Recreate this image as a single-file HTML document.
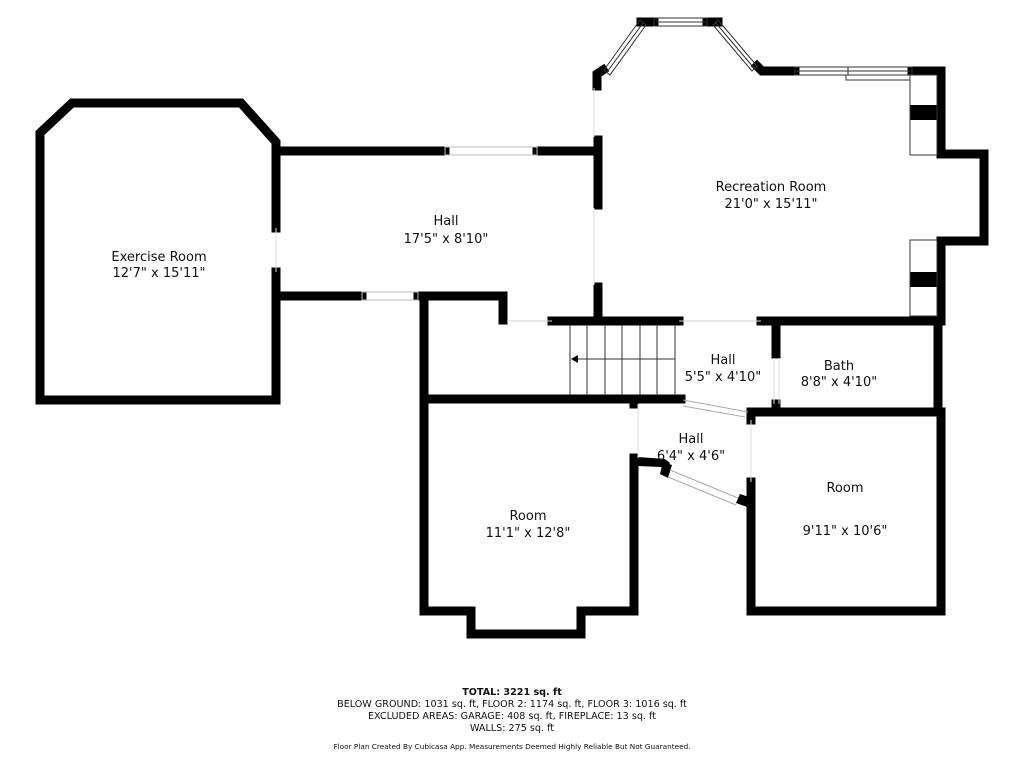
<!DOCTYPE html>
<html><head><style>
html,body{margin:0;padding:0;background:#fff;}
svg{display:block}
text{font-family:"DejaVu Sans","Liberation Sans",sans-serif;fill:#111}
</style></head><body>
<svg width="1024" height="768" viewBox="0 0 1024 768" xmlns="http://www.w3.org/2000/svg">
<g stroke="#000" stroke-width="9" fill="none" stroke-linejoin="miter" stroke-linecap="square">
<polyline points="276,228 276,142 241,103 72,103 40,133 40,400 276,400 276,272"/>
<line x1="280" y1="151" x2="445" y2="151"/>
<line x1="537" y1="151" x2="596" y2="151"/>
<line x1="598" y1="140" x2="598" y2="205"/>
<line x1="598" y1="287" x2="598" y2="314"/>
<line x1="280" y1="296" x2="362" y2="296"/>
<polyline points="418,296 503,296 503,320"/>
<polyline points="597,86 597,74 603,70"/>
<line x1="641" y1="22" x2="654" y2="22"/>
<line x1="707" y1="22" x2="718" y2="22"/>
<polyline points="757,66 762,71 795,71"/>
<polyline points="912,71 941,71 941,154 984,154 984,241 941,241 941,320"/>
<line x1="552" y1="321" x2="679" y2="321"/>
<line x1="761" y1="321" x2="941" y2="321"/>
<line x1="776" y1="321" x2="776" y2="354"/>
<line x1="776" y1="404" x2="776" y2="410"/>
<line x1="938" y1="321" x2="938" y2="410"/>
<line x1="752" y1="412" x2="941" y2="412"/>
<polyline points="751,482 751,611 941,611 941,412"/>
<polyline points="424,296 424,611 471,611 471,634 581,634 581,611 634,611 634,458"/>
<line x1="424" y1="399" x2="681" y2="399"/>
<line x1="634" y1="399" x2="634" y2="404"/>
<line x1="751" y1="412" x2="751" y2="420"/>
</g>
<polygon points="638,457 665,459 670,463 666,470 661,467 638,466" fill="#000"/>
<polygon points="663,462 672,465 668,478 660,474" fill="#000"/>
<polygon points="740,494 752,498 750,508 736,503" fill="#000"/>
<polygon points="683,395 682,403 676,403 676,395" fill="#000"/>
<rect x="910" y="105" width="28" height="15" fill="#000"/>
<rect x="910" y="272" width="28" height="15" fill="#000"/>
<g stroke="#333" stroke-width="1" fill="none">
<rect x="910" y="75" width="27" height="80"/>
<rect x="910" y="240" width="27" height="76"/>
<rect x="846" y="75" width="64" height="5"/>
<rect x="445" y="147" width="92" height="8" stroke="#bbb"/>
<rect x="362" y="292" width="56" height="8" stroke="#bbb"/>
<rect x="654" y="18" width="53" height="8"/>
<line x1="656" y1="22" x2="705" y2="22"/>
<rect x="795" y="67" width="117" height="8"/>
<line x1="797" y1="71" x2="910" y2="71"/>
<line x1="848" y1="67" x2="848" y2="75"/>
<polygon points="604,70 640,20 646,25 610,75"/>
<line x1="607" y1="72" x2="643" y2="23"/>
<polygon points="718,20 757,66 752,71 713,25"/>
<line x1="715" y1="22" x2="754" y2="68"/>
<line x1="683" y1="400" x2="748" y2="412" stroke="#aaa"/>
<line x1="683" y1="406" x2="745" y2="417" stroke="#aaa"/>
<line x1="670" y1="470" x2="738" y2="498" stroke="#aaa"/>
<line x1="668" y1="477" x2="736" y2="505" stroke="#aaa"/>
<line x1="507" y1="321" x2="552" y2="321" stroke="#ccc"/>
<line x1="679" y1="321" x2="761" y2="321" stroke="#ccc"/>
<line x1="638" y1="404" x2="638" y2="458" stroke="#ddd"/>
<line x1="751" y1="420" x2="751" y2="482" stroke="#ddd"/>
<line x1="774" y1="358" x2="774" y2="404" stroke="#ddd"/>
<line x1="779" y1="358" x2="779" y2="404" stroke="#ddd"/>
<line x1="594" y1="88" x2="594" y2="137" stroke="#ddd"/>
<line x1="594" y1="208" x2="594" y2="285" stroke="#ddd"/>
<line x1="276" y1="228" x2="276" y2="272" stroke="#ddd"/>
<line x1="570" y1="325" x2="570" y2="395"/>
<line x1="587" y1="325" x2="587" y2="395"/>
<line x1="605" y1="325" x2="605" y2="395"/>
<line x1="622" y1="325" x2="622" y2="395"/>
<line x1="640" y1="325" x2="640" y2="395"/>
<line x1="657" y1="325" x2="657" y2="395"/>
<line x1="675" y1="325" x2="675" y2="395"/>
<line x1="578" y1="359" x2="675" y2="359"/>
</g>
<polygon points="571,359 578,355 578,363" fill="#000"/>
<g font-size="13" text-anchor="middle">
<text x="159" y="261">Exercise Room</text><text x="159" y="277">12'7" x 15'11"</text>
<text x="446" y="225">Hall</text><text x="446" y="243">17'5" x 8'10"</text>
<text x="771" y="191">Recreation Room</text><text x="771" y="208">21'0" x 15'11"</text>
<text x="723" y="364">Hall</text><text x="723" y="381">5'5" x 4'10"</text>
<text x="839" y="370">Bath</text><text x="839" y="386">8'8" x 4'10"</text>
<text x="691" y="443">Hall</text><text x="691" y="460">6'4" x 4'6"</text>
<text x="528" y="520">Room</text><text x="528" y="537">11'1" x 12'8"</text>
<text x="845" y="492">Room</text><text x="845" y="535">9'11" x 10'6"</text>
</g>
<g font-size="9.6" text-anchor="middle">
<text x="512" y="695" font-weight="bold">TOTAL: 3221 sq. ft</text>
<text x="512" y="707">BELOW GROUND: 1031 sq. ft, FLOOR 2: 1174 sq. ft, FLOOR 3: 1016 sq. ft</text>
<text x="512" y="719">EXCLUDED AREAS: GARAGE: 408 sq. ft, FIREPLACE: 13 sq. ft</text>
<text x="512" y="731">WALLS: 275 sq. ft</text>
<text x="512" y="749" font-size="7.3">Floor Plan Created By Cubicasa App. Measurements Deemed Highly Reliable But Not Guaranteed.</text>
</g>
</svg>
</body></html>
